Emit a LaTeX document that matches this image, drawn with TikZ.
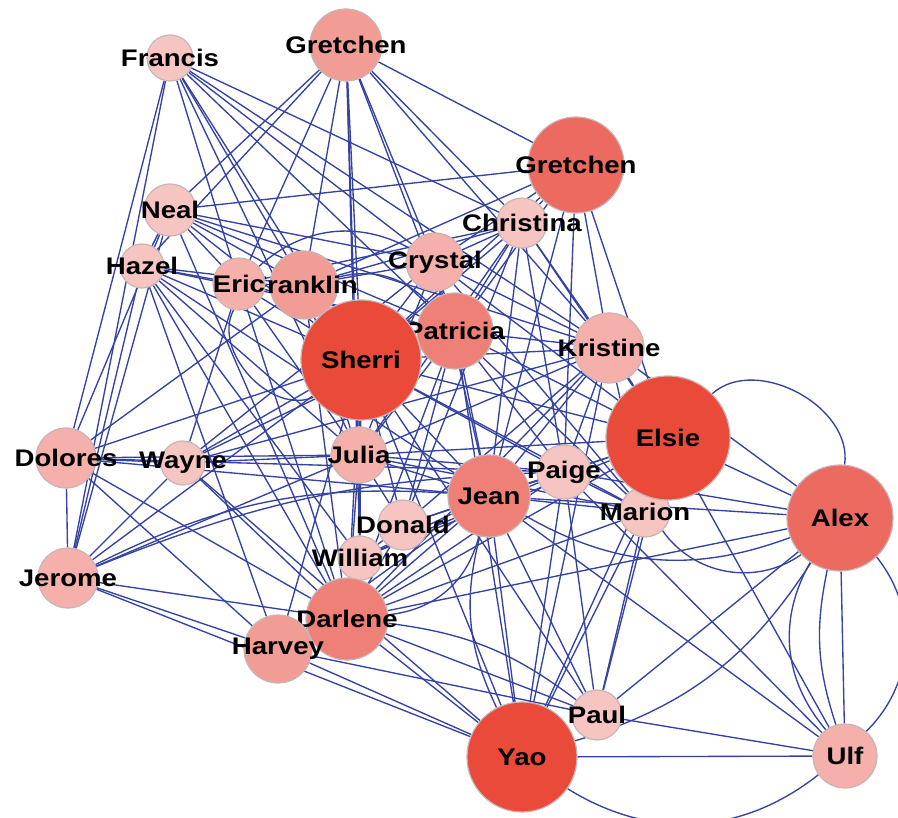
\documentclass[tikz,border=0pt]{standalone}
\usepackage{fontspec}
\setmainfont{Liberation Sans}[FakeStretch=1.15]
\usetikzlibrary{backgrounds}

\definecolor{edgeblue}{RGB}{52,66,162}
\definecolor{ringgrey}{RGB}{200,180,180}
\definecolor{pinkA}{RGB}{247,197,193}
\definecolor{pinkB}{RGB}{245,176,171}
\definecolor{pinkC}{RGB}{242,156,150}
\definecolor{pinkD}{RGB}{239,128,120}
\definecolor{pinkE}{RGB}{236,106,95}
\definecolor{pinkF}{RGB}{233,74,58}

\tikzset{
  person/.style={circle, draw=ringgrey, line width=1.2pt, inner sep=0pt},
  edge/.style={draw=edgeblue, line width=1.35pt},
  every label/.style={font=\fontsize{24}{26}\selectfont\bfseries, text=black, inner sep=0pt}
}

\begin{document}
\begin{tikzpicture}[x=1pt,y=1pt,yscale=-1]
\useasboundingbox (0,0) rectangle (898,818);

%Nodes
\node[person, fill=pinkA, minimum size=46pt, label=center:Francis] (fra) at (170,58) {};
\node[person, fill=pinkC, minimum size=72pt, label=center:Gretchen] (gr1) at (346,45) {};
\node[person, fill=pinkE, minimum size=96pt, label=center:Gretchen] (gr2) at (576,165) {};
\node[person, fill=pinkA, minimum size=52pt, label=center:Neal] (nea) at (170,210) {};
\node[person, fill=pinkA, minimum size=50pt, label=center:Christina] (chr) at (522,223) {};
\node[person, fill=pinkA, minimum size=44pt, label=center:Hazel] (haz) at (142,266) {};
\node[person, fill=pinkC, minimum size=68pt, label=center:Franklin] (frk) at (304,285) {};
\node[person, fill=pinkB, minimum size=52pt, label=center:Eric] (eri) at (239,284) {};
\node[person, fill=pinkB, minimum size=58pt, label=center:Crystal] (cry) at (435,262) {};
\node[person, fill=pinkD, minimum size=76pt, label=center:Patricia] (pat) at (455,331) {};
\node[person, fill=pinkF, minimum size=120pt, label=center:Sherri] (she) at (361,360) {};
\node[person, fill=pinkB, minimum size=70pt, label=center:Kristine] (kri) at (609,348) {};
\node[person, fill=pinkA, minimum size=50pt, label=center:Marion] (mar) at (645,512) {};
\node[person, fill=pinkF, minimum size=124pt, label=center:Elsie] (els) at (668,438) {};
\node[person, fill=pinkB, minimum size=60pt, label=center:Dolores] (dol) at (66,458) {};
\node[person, fill=pinkA, minimum size=44pt, label=center:Wayne] (way) at (183,463) {};
\node[person, fill=pinkB, minimum size=56pt, label=center:Julia] (jul) at (359,455) {};
\node[person, fill=pinkA, minimum size=54pt, label=center:Paige] (pai) at (564,472) {};
\node[person, fill=pinkD, minimum size=82pt, label=center:Jean] (jea) at (489,496) {};
\node[person, fill=pinkE, minimum size=106pt, label=center:Alex] (ale) at (840,518) {};
\node[person, fill=pinkA, minimum size=50pt, label=center:Donald] (don) at (403,525) {};
\node[person, fill=pinkA, minimum size=44pt, label=center:William] (wil) at (360,558) {};
\node[person, fill=pinkB, minimum size=60pt, label=center:Jerome] (jer) at (68,578) {};
\node[person, fill=pinkD, minimum size=82pt, label=center:Darlene] (dar) at (347,619) {};
\node[person, fill=pinkC, minimum size=68pt, label=center:Harvey] (har) at (278,649) {};
\node[person, fill=pinkA, minimum size=50pt, label=center:Paul] (pau) at (597,715) {};
\node[person, fill=pinkF, minimum size=110pt, label=center:Yao] (yao) at (522,757) {};
\node[person, fill=pinkB, minimum size=64pt, label=center:Ulf] (ulf) at (845,756) {};

%Edges
\begin{scope}[on background layer]
\foreach \a/\b in {fra/dol, fra/jer, fra/eri, fra/frk, fra/she, fra/jul, fra/cry, fra/pat, fra/chr, fra/kri,
  gr1/nea, gr1/haz, gr1/frk, gr1/she, gr1/jul, gr1/cry, gr1/pat, gr1/chr, gr1/gr2, gr1/kri, gr1/eri, gr1/wil,
  nea/gr2, nea/kri, nea/cry, nea/eri, nea/she, nea/haz, nea/dol, nea/jer, nea/frk, nea/pat, nea/dar,
  haz/eri, haz/frk, haz/she, haz/jer, haz/dar, haz/har, haz/wil, haz/jul, haz/jea, haz/pat,
  chr/gr2, chr/cry, chr/pat, chr/she, chr/kri, chr/jul, chr/jea, chr/pai, chr/els, chr/frk, chr/don, chr/eri,
  gr2/kri, gr2/she, gr2/pat, gr2/cry, gr2/els, gr2/frk, gr2/jea, gr2/pai,
  cry/she, cry/pat, cry/kri, cry/frk, cry/jul, cry/jea, cry/way, cry/els, cry/mar,
  pat/she, pat/kri, pat/jea, pat/pai, pat/els, pat/mar, pat/jul, pat/don, pat/eri, pat/dar, pat/yao, pat/way,
  she/eri, she/frk, she/jul, she/don, she/wil, she/dar, she/har, she/jea, she/pai, she/els, she/mar,
  she/kri, she/way, she/dol, she/jer, she/yao, she/pau,
  kri/els, kri/pai, kri/jea, kri/mar, kri/jul, kri/don, kri/dar, kri/yao, kri/way, kri/ale,
  els/ale, els/ulf, els/pau, els/yao, els/jea, els/pai, els/dar, els/wil, els/jul,
  ale/pau, ale/ulf, ale/dar, ale/pai, ale/jea,
  ulf/yao, ulf/pau, ulf/jea, ulf/pai,
  pau/jea, pau/pai, pau/mar, pau/dar, pau/har,
  yao/jea, yao/pai, yao/mar, yao/dar, yao/har, yao/jer, yao/way,
  dar/har, dar/wil, dar/don, dar/jul, dar/jea, dar/pai, dar/mar, dar/eri, dar/frk, dar/jer, dar/dol, dar/way,
  har/jer, har/dol, har/jea,
  jul/way, jul/dol, jul/jer, jul/jea, jul/pai, jul/mar, jul/don, jul/wil, jul/eri, jul/frk,
  don/jea, don/pai, don/wil, wil/jea, wil/pai,
  jer/way, jer/dol, dol/way, dol/jea, dol/pai, dol/frk,
  way/eri, eri/frk, pai/mar, jea/mar, jea/pai}
  \draw[edge] (\a) -- (\b);
%curved ones
\foreach \a/\b/\ang in {els/ale/-70, ale/ulf/-42, ale/ulf/35, ale/ulf/15,
  yao/ulf/35, yao/ale/20, mar/ale/45, jea/ale/25,
  eri/she/70, eri/cry/-35, frk/pat/-30, jer/jea/-15, jer/pai/-10,
  dar/jea/35, dar/pau/-15, jea/yao/20}
  \draw[edge] (\a) to[bend left=\ang] (\b);
\end{scope}

\end{tikzpicture}
\end{document}
